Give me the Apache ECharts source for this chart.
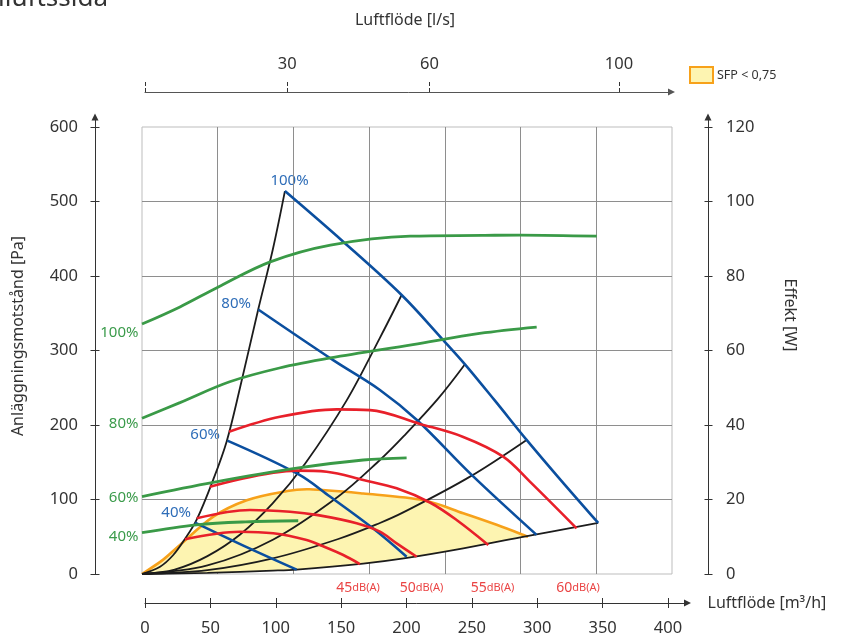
<!DOCTYPE html>
<html>
<head>
<meta charset="utf-8">
<title>Luftflöde</title>
<script src="https://cdn.jsdelivr.net/npm/echarts@6.0.0/dist/echarts.min.js"></script>
<style>
html,body{margin:0;padding:0;background:#ffffff;}
#chart{width:843px;height:637px;}
</style>
</head>
<body>
<div id="chart"></div>
<script>
// ---------- tick labels ----------
const pressureTicks = [0, 100, 200, 300, 400, 500, 600];
const powerTicks = [0, 20, 40, 60, 80, 100, 120];
const flowM3hTicks = [0, 50, 100, 150, 200, 250, 300, 350, 400];
const flowLsTicks = [0, 30, 60, 100];
const flowLsLabels = [30, 60, 100];

// ---------- system curves [m3/h, Pa] ----------
const system1 = [[0,0],[13.8,9.8],[23.9,25.5],[32.8,47],[41.8,73],[54.5,127],[64.7,178],[74.9,250],[88.8,355],[100,436],[109.2,514]];
const system2 = [[0,0],[25,6],[50,24],[75,53],[100,95],[125,149],[156.4,233],[181.8,317],[198.4,374.5]];
const system3 = [[0,0],[50,11.5],[100,46],[150,104],[181.8,153],[200,185],[226.1,235],[246.8,281.5]];
const system4 = [[0,0],[50,5.2],[100,21],[150,47],[181.8,68.5],[200,83],[250,130],[293.9,180]];
const system5 = [[0,0],[50,1.5],[100,4.5],[118.2,6],[169,14],[200,21],[245.5,34.5],[290,49.5],[348.6,68.5]];

// ---------- fan curves [m3/h, Pa] ----------
const fan100 = [[109.2,514],[153.8,446],[198.4,374.5],[230.2,314],[246.8,281.5],[270,232],[293.9,180],[320,126],[348.6,68.5]];
const fan80 = [[88.8,355],[146.1,287],[181.8,247],[210.5,206],[251.9,133],[301.5,52.5]];
const fan60 = [[65.2,179],[119.4,134],[143.6,104],[176.7,61],[202.2,23.2]];
const fan40 = [[40.5,69],[82.5,34],[118.2,5.8]];

// ---------- sound curves [m3/h, Pa] ----------
const sound60 = [[66.5,191],[105.4,211],[148.7,221],[174.2,220],[212.4,201.5],[245.5,184],[276,157.5],[296.4,124],[332.1,61.3]];
const sound55 = [[51.9,117],[118.2,138.7],[141.1,137.3],[169.1,126.2],[194.6,115],[220,96],[240.4,72.5],[264.6,39]];
const sound50 = [[41.8,74.8],[82.5,86],[113.1,83.6],[134.5,79],[164,68.1],[181.8,56.8],[194.6,41.2],[209.9,23.2]];
const sound45 = [[32.8,46.6],[74.9,56.8],[100.3,54.6],[125.8,45.6],[138,37.5],[153.8,25.5],[166.5,13.4]];

// ---------- power curves [m3/h, W] ----------
const power100 = [[0,67.1],[29,71.7],[58,77],[98,83.8],[144,88.3],[205,90.7],[260,90.9],[289,91],[347.5,90.7]];
const power80 = [[0,41.8],[29,46],[67,51.6],[105,55.3],[144,58],[207,61.6],[258,64.6],[301.6,66.3]];
const power60 = [[0,20.8],[54.5,24.6],[118.2,28.4],[169,30.6],[202.2,31.2]];
const power40 = [[0,11.1],[41.8,13.2],[79.2,14],[119.4,14.3]];

// ---------- SFP < 0,75 region ----------
const sfpFlow  = [0, 16, 29, 54.5, 80, 108, 128, 169, 215, 245.5, 271, 295];
const sfpUpper = [0, 19, 39, 77, 99, 110.5, 113.7, 108, 99, 81.5, 66, 50];
const sfpLower = [0, 0.3, 0.6, 1.7, 3.3, 5.2, 7.2, 14, 24.5, 34.5, 43, 50];

// ---------- label texts ----------
const fanLabels = ['100%', '80%', '60%', '40%'];
const powerLabels = ['100%', '80%', '60%', '40%'];
const soundLabels = ['45', '50', '55', '60'];

const FONT = 'Noto Sans';
const TXT = '#333333';
const BLUE = '#0b4f9f', BLUE_T = '#2e6db8';
const GREEN = '#3a9a47', GREEN_T = '#3b9b4b';
const RED = '#e8202a', RED_T = '#ea4444';
const BLACK = '#1c1c1c';
const ORANGE = '#f7a11a', YELLOW = '#fdf4b1';

function spline(pts) {
  let d = '';
  for (let i = 0; i < pts.length - 1; i++) {
    const p0 = pts[Math.max(i - 1, 0)], p1 = pts[i], p2 = pts[i + 1], p3 = pts[Math.min(i + 2, pts.length - 1)];
    const c1x = p1[0] + (p2[0] - p0[0]) / 6, c1y = p1[1] + (p2[1] - p0[1]) / 6;
    const c2x = p2[0] - (p3[0] - p1[0]) / 6, c2y = p2[1] - (p3[1] - p1[1]) / 6;
    d += 'C' + c1x + ',' + c1y + ' ' + c2x + ',' + c2y + ' ' + p2[0] + ',' + p2[1];
  }
  return d;
}

function line(name, data, color, width, yIdx, z) {
  return {
    name: name, type: 'line', xAxisIndex: 0, yAxisIndex: yIdx, data: data,
    smooth: 0.35, symbol: 'none', silent: true, z: z,
    lineStyle: { color: color, width: width },
    itemStyle: { color: color }
  };
}

const axisLineStyle = { color: '#333', width: 1 };

function deco(opts) {
  return Object.assign({
    type: 'value', splitLine: { show: false }
  }, opts);
}

function txt(text, x, y, color, align, size) {
  return { type: 'text', x: x, y: y, silent: true,
    style: { text: text, fontSize: size, fontFamily: FONT, fill: color, align: align, textAlign: align, verticalAlign: 'middle', textVerticalAlign: 'middle' } };
}

function dbTxt(value, x, y) {
  return { type: 'text', x: x, y: y, silent: true,
    style: { text: '{a|' + value + '}{b|dB(A)}', align: 'center', textAlign: 'center', verticalAlign: 'middle', textVerticalAlign: 'middle',
      rich: { a: { fontSize: 14, fontFamily: FONT, fill: RED_T, color: RED_T }, b: { fontSize: 11, fontFamily: FONT, fill: RED_T, color: RED_T } } } };
}

const option = {
  animation: false,
  backgroundColor: '#ffffff',
  textStyle: { fontFamily: FONT },
  grid: [
    { left: 142, top: 127, width: 530, height: 447, show: true, borderColor: '#bdbdbd', borderWidth: 1, containLabel: false },
    { left: 95, top: 117, width: 1, height: 457, containLabel: false },
    { left: 708, top: 117, width: 1, height: 457, containLabel: false },
    { left: 145, top: 590, width: 542.5, height: 13, containLabel: false },
    { left: 145, top: 82, width: 526.5, height: 10, containLabel: false }
  ],
  legend: {
    data: [{ name: 'SFP < 0,75', icon: 'rect', itemStyle: { color: YELLOW, borderColor: ORANGE, borderWidth: 2 } }],
    left: 689, top: 66, itemWidth: 23, itemHeight: 16, padding: 0, itemGap: 4,
    selectedMode: false,
    textStyle: { fontFamily: FONT, fontSize: 12.5, color: TXT, padding: [0, 0, 0, -1] }
  },
  xAxis: [
    { type: 'value', gridIndex: 0, min: 0, max: 405, show: false },
    { type: 'value', gridIndex: 0, min: 0, max: 7, interval: 1,
      axisLine: { show: false }, axisTick: { show: false }, axisLabel: { show: false },
      splitLine: { show: true, showMinLine: false, showMaxLine: false, lineStyle: { color: '#8e8e8e', width: 1 } } },
    deco({ gridIndex: 3, position: 'bottom', min: 0, max: 414.9,
      axisLine: { show: true, lineStyle: axisLineStyle, symbol: ['none', 'triangle'], symbolSize: [7, 7] },
      axisTick: { show: true, length: 5, customValues: flowM3hTicks, lineStyle: axisLineStyle },
      axisLabel: { show: true, customValues: flowM3hTicks, margin: 17, fontSize: 16.5, color: TXT, fontFamily: FONT },
      name: 'Luftflöde [m³/h]', nameLocation: 'end', nameGap: 20,
      nameTextStyle: { fontSize: 16, color: TXT, fontFamily: FONT, align: 'left', verticalAlign: 'middle' } }),
    deco({ gridIndex: 3, position: 'bottom', min: 0, max: 414.9,
      axisLine: { show: false }, axisLabel: { show: false },
      axisTick: { show: true, inside: true, length: 5, customValues: flowM3hTicks, lineStyle: axisLineStyle } }),
    deco({ gridIndex: 4, position: 'top', min: 0, max: 111.08,
      axisLine: { show: true, lineStyle: { color: '#555', width: 1 }, symbol: ['none', 'triangle'], symbolSize: [7, 7] },
      axisTick: { show: true, length: 4, customValues: flowLsTicks, lineStyle: { color: '#333' } },
      axisLabel: { show: true, customValues: flowLsLabels, margin: 9, fontSize: 16.5, color: TXT, fontFamily: FONT } }),
    deco({ gridIndex: 4, position: 'top', min: 0, max: 111.08,
      axisLine: { show: false }, axisLabel: { show: false },
      axisTick: { show: true, inside: true, length: 4, customValues: flowLsTicks, lineStyle: { color: '#333' } } }),
    { type: 'value', gridIndex: 1, show: false },
    { type: 'value', gridIndex: 2, show: false }
  ],
  yAxis: [
    { type: 'value', gridIndex: 0, min: 0, max: 600, interval: 100,
      axisLine: { show: false }, axisTick: { show: false }, axisLabel: { show: false },
      splitLine: { show: true, showMinLine: false, showMaxLine: false, lineStyle: { color: '#8e8e8e', width: 1 } } },
    { type: 'value', gridIndex: 0, min: 0, max: 120, show: false },
    deco({ gridIndex: 1, position: 'left', min: 0, max: 613.4,
      axisLine: { show: true, lineStyle: axisLineStyle, symbol: ['none', 'triangle'], symbolSize: [7, 7] },
      axisTick: { show: true, length: 4.5, customValues: pressureTicks, lineStyle: axisLineStyle },
      axisLabel: { show: true, customValues: pressureTicks, margin: 17, fontSize: 16.5, color: TXT, fontFamily: FONT } }),
    deco({ gridIndex: 1, position: 'left', min: 0, max: 613.4,
      axisLine: { show: false }, axisLabel: { show: false },
      axisTick: { show: true, inside: true, length: 4.5, customValues: pressureTicks, lineStyle: axisLineStyle } }),
    deco({ gridIndex: 2, position: 'right', min: 0, max: 122.68,
      axisLine: { show: true, lineStyle: axisLineStyle, symbol: ['none', 'triangle'], symbolSize: [7, 7] },
      axisTick: { show: true, length: 4.5, customValues: powerTicks, lineStyle: axisLineStyle },
      axisLabel: { show: true, customValues: powerTicks, margin: 17, fontSize: 16.5, color: TXT, fontFamily: FONT } }),
    deco({ gridIndex: 2, position: 'right', min: 0, max: 122.68,
      axisLine: { show: false }, axisLabel: { show: false },
      axisTick: { show: true, inside: true, length: 4.5, customValues: powerTicks, lineStyle: axisLineStyle } }),
    { type: 'value', gridIndex: 3, show: false },
    { type: 'value', gridIndex: 4, show: false }
  ],
  graphic: [
    { type: 'text', x: 108, y: 12, silent: true,
      style: { text: 'Tilluftssida', fontSize: 26, fontFamily: FONT, fill: TXT, textAlign: 'right', align: 'right', textVerticalAlign: 'bottom', verticalAlign: 'bottom' } },
    txt('Luftflöde [l/s]', 405, 20, TXT, 'center', 16),
    Object.assign(txt('Anläggningsmotstånd [Pa]', 18, 336, TXT, 'center', 16), { rotation: Math.PI / 2 }),
    Object.assign(txt('Effekt [W]', 790, 315, TXT, 'center', 16), { rotation: -Math.PI / 2 }),
    txt(fanLabels[0], 289.5, 181, BLUE_T, 'center', 15),
    txt(fanLabels[1], 251, 304, BLUE_T, 'right', 15),
    txt(fanLabels[2], 220, 435, BLUE_T, 'right', 15),
    txt(fanLabels[3], 191, 513, BLUE_T, 'right', 15),
    txt(powerLabels[0], 138.5, 333, GREEN_T, 'right', 15),
    txt(powerLabels[1], 138.5, 424, GREEN_T, 'right', 15),
    txt(powerLabels[2], 138.5, 498, GREEN_T, 'right', 15),
    txt(powerLabels[3], 138.5, 537, GREEN_T, 'right', 15),
    dbTxt(soundLabels[0], 358, 588),
    dbTxt(soundLabels[1], 421.5, 588),
    dbTxt(soundLabels[2], 492.5, 588),
    dbTxt(soundLabels[3], 578, 588)
  ],
  series: [
    {
      name: 'SFP < 0,75', type: 'custom', xAxisIndex: 0, yAxisIndex: 0, silent: true, z: 1,
      data: [0],
      itemStyle: { color: YELLOW, borderColor: ORANGE },
      renderItem: function (params, api) {
        const up = sfpFlow.map((q, i) => api.coord([q, sfpUpper[i]]));
        const lo = sfpFlow.map((q, i) => api.coord([q, sfpLower[i]])).reverse();
        const fillPath = 'M' + up[0][0] + ',' + up[0][1] + spline(up) + 'L' + lo[0][0] + ',' + lo[0][1] + spline(lo) + 'Z';
        const strokePath = 'M' + up[0][0] + ',' + up[0][1] + spline(up);
        return {
          type: 'group',
          children: [
            { type: 'path', shape: { pathData: fillPath }, style: { fill: YELLOW, stroke: null } },
            { type: 'path', shape: { pathData: strokePath }, style: { fill: null, stroke: ORANGE, lineWidth: 2.6 } }
          ]
        };
      }
    },
    line('system1', system1, BLACK, 1.8, 0, 2),
    line('system2', system2, BLACK, 1.8, 0, 2),
    line('system3', system3, BLACK, 1.8, 0, 2),
    line('system4', system4, BLACK, 1.8, 0, 2),
    line('system5', system5, BLACK, 1.8, 0, 2),
    line('fan100', fan100, BLUE, 2.6, 0, 3),
    line('fan80', fan80, BLUE, 2.6, 0, 3),
    line('fan60', fan60, BLUE, 2.6, 0, 3),
    line('fan40', fan40, BLUE, 2.6, 0, 3),
    line('sound60', sound60, RED, 2.6, 0, 4),
    line('sound55', sound55, RED, 2.6, 0, 4),
    line('sound50', sound50, RED, 2.6, 0, 4),
    line('sound45', sound45, RED, 2.6, 0, 4),
    line('power100', power100, GREEN, 2.8, 1, 5),
    line('power80', power80, GREEN, 2.8, 1, 5),
    line('power60', power60, GREEN, 2.8, 1, 5),
    line('power40', power40, GREEN, 2.8, 1, 5)
  ]
};

const chart = echarts.init(document.getElementById('chart'), null, { renderer: 'canvas' });
chart.setOption(option);
</script>
</body>
</html>
